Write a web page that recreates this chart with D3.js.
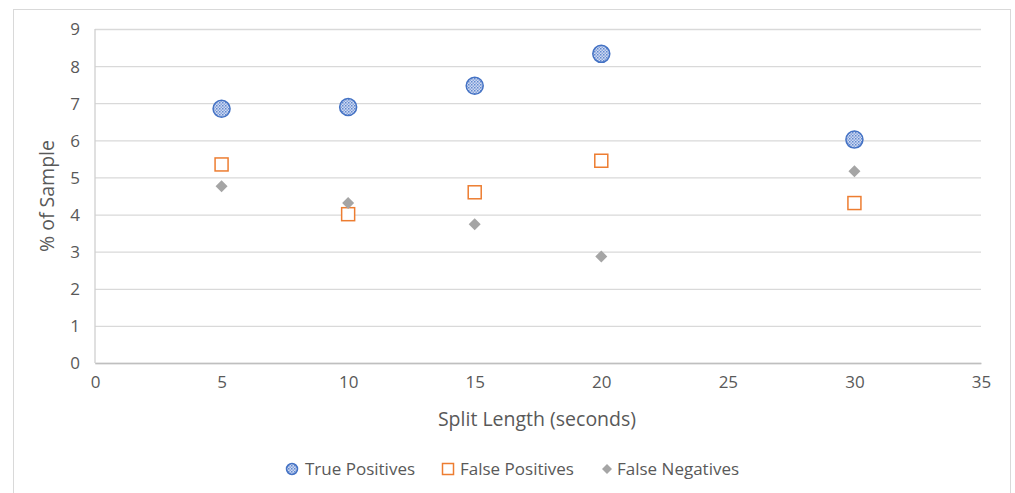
<!DOCTYPE html>
<html>
<head>
<meta charset="utf-8">
<script src="https://cdn.jsdelivr.net/npm/d3@7"></script>
<style>
  html, body { margin: 0; padding: 0; background: #fff; }
  svg text { font-family: "Open Sans", "Liberation Sans", sans-serif; fill: #595959; }
</style>
</head>
<body>
<svg id="chart" width="1015" height="493"></svg>
<script>
// Split lengths (seconds) tested
const splitLengths = [5, 10, 15, 20, 30];
// Percent of sample per outcome type
const truePositives  = [6.85, 6.90, 7.47, 8.33, 6.02];
const falsePositives = [5.35, 4.01, 4.60, 5.45, 4.31];
const falseNegatives = [4.76, 4.31, 3.74, 2.87, 5.17];

const seriesNames = ["True Positives", "False Positives", "False Negatives"];
const xTicks = [0, 5, 10, 15, 20, 25, 30, 35];
const yTicks = [0, 1, 2, 3, 4, 5, 6, 7, 8, 9];

const svg = d3.select("#chart");
const plot = { left: 95, right: 981, top: 29, bottom: 363 };

// Pattern fill for the circle markers
const defs = svg.append("defs");
const pat = defs.append("pattern")
  .attr("id", "dotfill").attr("patternUnits", "userSpaceOnUse")
  .attr("width", 3).attr("height", 3);
pat.append("rect").attr("width", 3).attr("height", 3).attr("fill", "#cfdaf1");
pat.append("rect").attr("width", 1.5).attr("height", 1.5).attr("fill", "#6189d0");
pat.append("rect").attr("x", 1.5).attr("y", 1.5).attr("width", 1.5).attr("height", 1.5).attr("fill", "#87a4dc");

// Outer chart frame
svg.append("rect")
  .attr("x", 13.5).attr("y", 9.5).attr("width", 997).attr("height", 495)
  .attr("fill", "none").attr("stroke", "#d9d9d9").attr("stroke-width", 1);

const x = d3.scaleLinear().domain([0, 35]).range([plot.left, plot.right]);
const y = d3.scaleLinear().domain([0, 9]).range([plot.bottom, plot.top]);

// Horizontal gridlines with value labels
const yAxis = d3.axisLeft(y).tickValues(yTicks).tickSize(-(plot.right - plot.left)).tickPadding(15).tickFormat(d3.format("d"));
const gy = svg.append("g").attr("transform", `translate(${plot.left},0)`).call(yAxis);
gy.select(".domain").remove();
gy.selectAll(".tick line").attr("stroke", "#d9d9d9").attr("stroke-width", 1.3);
gy.selectAll(".tick text").attr("font-size", 17).attr("dy", "0.35em");

// Left vertical axis line
svg.append("line")
  .attr("x1", plot.left).attr("x2", plot.left)
  .attr("y1", plot.top).attr("y2", plot.bottom)
  .attr("stroke", "#d0d0d0").attr("stroke-width", 1.3);

// X axis
const xAxis = d3.axisBottom(x).tickValues(xTicks).tickSize(0).tickPadding(13).tickFormat(d3.format("d"));
const gx = svg.append("g").attr("transform", `translate(0,${plot.bottom})`).call(xAxis);
gx.select(".domain").attr("stroke", "#bfbfbf").attr("stroke-width", 1.3);
gx.selectAll(".tick text").attr("font-size", 17);

// Axis titles
svg.append("text")
  .attr("x", 537).attr("y", 426)
  .attr("text-anchor", "middle").attr("font-size", 19.5)
  .text("Split Length (seconds)");
svg.append("text")
  .attr("transform", `translate(54,${(plot.top + plot.bottom) / 2}) rotate(-90)`)
  .attr("text-anchor", "middle").attr("font-size", 19.5)
  .text("% of Sample");

// Marker drawers
function circleMarker(g, cx, cy, r) {
  g.append("circle").attr("cx", cx).attr("cy", cy).attr("r", r)
    .attr("fill", "url(#dotfill)").attr("stroke", "#4472c4").attr("stroke-width", 1.5);
}
function squareMarker(g, cx, cy, s) {
  g.append("rect").attr("x", cx - s / 2).attr("y", cy - s / 2).attr("width", s).attr("height", s)
    .attr("fill", "#fff").attr("stroke", "#ed7d31").attr("stroke-width", 1.5);
}
function diamondMarker(g, cx, cy, s) {
  g.append("path")
    .attr("d", `M${cx},${cy - s / 2}L${cx + s / 2},${cy}L${cx},${cy + s / 2}L${cx - s / 2},${cy}Z`)
    .attr("fill", "#a5a5a5");
}

const marks = svg.append("g");
splitLengths.forEach((s, i) => circleMarker(marks, x(s), y(truePositives[i]), 8.5));
splitLengths.forEach((s, i) => squareMarker(marks, x(s), y(falsePositives[i]), 13));
splitLengths.forEach((s, i) => diamondMarker(marks, x(s), y(falseNegatives[i]), 12));

// Legend
const legend = svg.append("g");
const legendY = 469;
const legendItems = [
  { name: seriesNames[0], mx: 292, tx: 305, draw: (g, cx, cy) => circleMarker(g, cx, cy, 5.5) },
  { name: seriesNames[1], mx: 448, tx: 460, draw: (g, cx, cy) => squareMarker(g, cx, cy, 11) },
  { name: seriesNames[2], mx: 607, tx: 617, draw: (g, cx, cy) => diamondMarker(g, cx, cy, 10) }
];
legendItems.forEach(it => {
  it.draw(legend, it.mx, legendY);
  legend.append("text").attr("x", it.tx).attr("y", legendY).attr("dy", "0.35em")
    .attr("font-size", 17).text(it.name);
});
</script>
</body>
</html>
